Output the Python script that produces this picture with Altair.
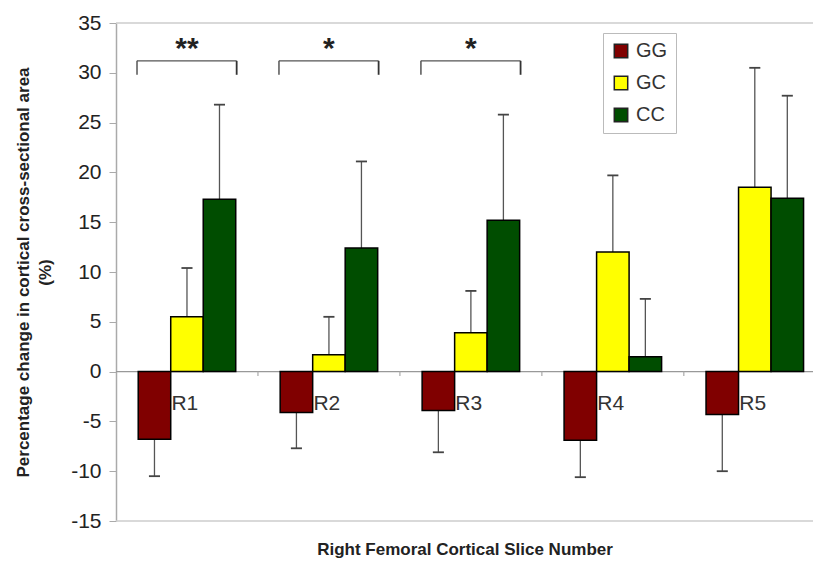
import altair as alt
import pandas as pd

groups = ["R1", "R2", "R3", "R4", "R5"]
series = ["GG", "GC", "CC"]
gg_mean = [-6.8, -4.1, -3.9, -6.9, -4.3]
gg_err = [-10.5, -7.7, -8.1, -10.6, -10.0]
gc_mean = [5.5, 1.7, 3.9, 12.0, 18.5]
gc_err = [10.4, 5.5, 8.1, 19.7, 30.5]
cc_mean = [17.3, 12.4, 15.2, 1.5, 17.4]
cc_err = [26.8, 21.1, 25.8, 7.3, 27.7]
colors = ["#800000", "#ffff00", "#004d00"]
sig_groups = ["R1", "R2", "R3"]
sig_labels = ["**", "*", "*"]

FONT = "Liberation Sans"
BW = 0.229      # bar width in group units
CAP = 0.039     # half cap width
XMAX = 4.91

means = {"GG": gg_mean, "GC": gc_mean, "CC": cc_mean}
errs = {"GG": gg_err, "GC": gc_err, "CC": cc_err}

rows = []
for i, g in enumerate(groups):
    for k, s in enumerate(series):
        c = i + 0.5 + (k - 1) * BW
        rows.append(dict(group=g, series=s, c=c, x0=c - BW / 2, x1=c + BW / 2,
                         cl=c - CAP, cr=c + CAP, mean=means[s][i], err=errs[s][i], zero=0))
df = pd.DataFrame(rows)

lab = pd.DataFrame({"group": groups,
                    "x": [i + 0.5 - BW / 2 + 0.005 for i in range(len(groups))],
                    "y": [-3.3] * len(groups)})
bnd = pd.DataFrame({"x": [1, 2, 3, 4], "y": [0] * 4, "y2": [-0.45] * 4})

sig = []
for g, t in zip(sig_groups, sig_labels):
    i = groups.index(g)
    sig.append(dict(label=t, l=i + 0.148, r=i + 0.85, m=i + 0.5, top=31.2, bot=29.8, st=33.0))
sdf = pd.DataFrame(sig)

frame = pd.DataFrame({"y": [35, -15], "x0": [0, 0], "x1": [XMAX, XMAX]})
zline = pd.DataFrame({"y": [0], "x0": [0], "x1": [XMAX]})

xscale = alt.Scale(domain=[0, XMAX], nice=False, zero=False)
yscale = alt.Scale(domain=[-15, 35], nice=False)
xaxis = alt.Axis(labels=False, ticks=False, domain=False, grid=False,
                 title="Right Femoral Cortical Slice Number", titleFont=FONT,
                 titleFontSize=17, titleFontWeight="bold", titleColor="#222",
                 titlePadding=20)
yaxis = alt.Axis(values=list(range(-15, 36, 5)), grid=False, tickSize=7,
                 tickColor="#aaa", domainColor="#aaa", domainWidth=1.5,
                 labelExpr="'' + datum.value",
                 labelFont=FONT, labelFontSize=21, labelColor="#222", labelPadding=8,
                 title=["Percentage change in cortical cross-sectional area", "(%)"],
                 titleFont=FONT, titleFontSize=17, titleFontWeight="bold",
                 titleColor="#222", titleLineHeight=22, titlePadding=16)


def X(f):
    return alt.X(f, type="quantitative", scale=xscale, axis=xaxis)


def Y(f):
    return alt.Y(f, type="quantitative", scale=yscale, axis=yaxis)


frame_l = alt.Chart(frame).mark_rule(color="#cccccc", strokeWidth=1.5).encode(
    x=X("x0"), x2="x1", y=Y("y"))
zero_l = alt.Chart(zline).mark_rule(color="#999999", strokeWidth=1.2).encode(
    x=X("x0"), x2="x1", y=Y("y"))
bnd_l = alt.Chart(bnd).mark_rule(color="#aaaaaa", strokeWidth=1.2).encode(
    x=X("x"), y=Y("y"), y2="y2")

err_l = alt.Chart(df).mark_rule(color="#555555", strokeWidth=1.3).encode(
    x=X("c"), y=Y("mean"), y2="err")
cap_l = alt.Chart(df).mark_rule(color="#444444", strokeWidth=1.8).encode(
    x=X("cl"), x2="cr", y=Y("err"))

bars = alt.Chart(df).mark_bar(stroke="black", strokeWidth=1.5).encode(
    x=X("x0"), x2="x1", y=Y("mean"), y2="zero",
    fill=alt.Fill("series:N", scale=alt.Scale(domain=series, range=colors),
                  legend=alt.Legend(title=None, orient="none", legendX=487, legendY=10,
                                    symbolType="square", symbolSize=180,
                                    symbolStrokeColor="#222", symbolStrokeWidth=1.5,
                                    labelFont=FONT, labelFontSize=20, labelColor="#333",
                                    labelOffset=5, rowPadding=12, padding=8,
                                    strokeColor="#bbbbbb", fillColor="white")))

lab_l = alt.Chart(lab).mark_text(align="left", baseline="middle", font=FONT,
                                 fontSize=21, color="#333").encode(
    x=X("x"), y=Y("y"), text="group:N")

br_h = alt.Chart(sdf).mark_rule(color="#555555", strokeWidth=1.3).encode(
    x=X("l"), x2="r", y=Y("top"))
br_l = alt.Chart(sdf).mark_rule(color="#555555", strokeWidth=1.5).encode(
    x=X("l"), y=Y("top"), y2="bot")
br_r = alt.Chart(sdf).mark_rule(color="#333333", strokeWidth=1.8).encode(
    x=X("r"), y=Y("top"), y2="bot")
stars = alt.Chart(sdf).mark_text(font=FONT, fontSize=30, fontWeight="bold",
                                 baseline="middle", align="center", dy=6, color="#222").encode(
    x=X("m"), y=Y("st"), text="label:N")

chart = alt.layer(frame_l, zero_l, bnd_l, err_l, cap_l, bars, lab_l,
                  br_h, br_l, br_r, stars).properties(
    width=697, height=498, autosize="none",
    padding={"left": 116, "top": 23, "right": 0, "bottom": 42},
    background="white",
).configure_view(stroke=None)

chart.save("out.html", embed_options={"renderer": "svg", "actions": False})
